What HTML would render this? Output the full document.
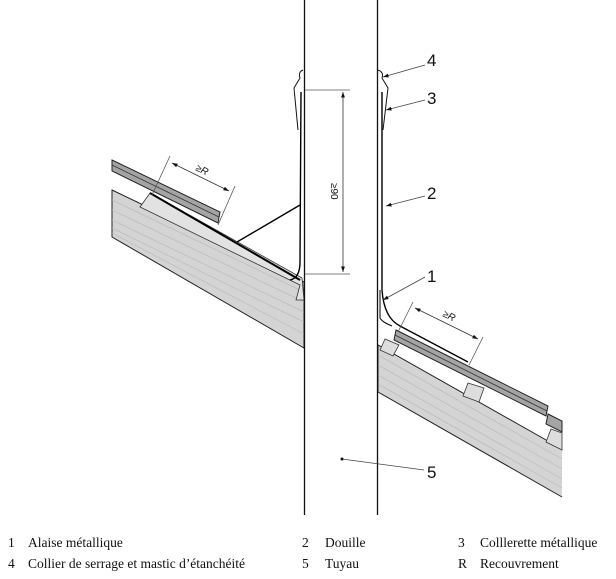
<!DOCTYPE html>
<html><head><meta charset="utf-8"><style>
html,body{margin:0;padding:0;background:#fff;width:616px;height:579px;overflow:hidden}
svg{display:block}
.lg{font-family:"Liberation Serif",serif;font-size:13.5px;fill:#111}
.lb{font-family:"Liberation Sans",sans-serif;font-size:17px;fill:#111}
</style></head><body>
<svg width="616" height="579" viewBox="0 0 616 579" xmlns="http://www.w3.org/2000/svg">
<defs>
<marker id="ar" viewBox="0 0 10 10" refX="10" refY="5" markerWidth="7" markerHeight="7" orient="auto-start-reverse"><path d="M0,1.5 L10,5 L0,8.5z" fill="#111"/></marker>
</defs>
<!-- left slab -->
<polygon points="112,190 304,282 304,348 112,237" fill="#d4d4d4" stroke="#222" stroke-width="1"/>
<g stroke="#bbb" stroke-width="0.7">
<line x1="112" y1="200" x2="304" y2="292"/><line x1="112" y1="210" x2="304" y2="302"/><line x1="112" y1="220" x2="304" y2="312"/><line x1="112" y1="228" x2="304" y2="322"/><line x1="112" y1="233" x2="304" y2="334"/>
</g>
<polygon points="150,193 302,278 304,300 296,300 300,285 140,207" fill="#e2e2e2" stroke="#333" stroke-width="0.8"/>
<polygon points="112,160 220,212 218,223 112,171" fill="#a4a4a4" stroke="#222" stroke-width="1"/>
<line x1="112" y1="165" x2="219" y2="217" stroke="#333" stroke-width="0.8"/>
<polyline points="150,193 300,280" fill="none" stroke="#000" stroke-width="2"/>
<!-- right slab -->
<polygon points="378,345 562,449 562,497 378,392" fill="#d4d4d4"/>
<polyline points="562,449 378,345 378,392 562,497" fill="none" stroke="#222" stroke-width="1"/>
<g stroke="#bbb" stroke-width="0.7">
<line x1="378" y1="355" x2="562" y2="459"/><line x1="378" y1="365" x2="562" y2="469"/><line x1="378" y1="375" x2="562" y2="479"/><line x1="378" y1="384" x2="562" y2="488"/>
</g>
<polygon points="385,339 399,345 393,356 380,350" fill="#ddd" stroke="#333" stroke-width="0.8"/>
<polygon points="468,383 484,388 479,402 463,396" fill="#ddd" stroke="#333" stroke-width="0.8"/>
<polygon points="551,429 562,433 562,450 546,442" fill="#ddd" stroke="#333" stroke-width="0.8"/>
<polygon points="396,330 548,406 546,416 394,340" fill="#a4a4a4" stroke="#222" stroke-width="1"/>
<line x1="395" y1="335" x2="547" y2="411" stroke="#333" stroke-width="0.8"/>
<polygon points="548,414 562,421 562,432 546,424" fill="#a4a4a4" stroke="#222" stroke-width="1"/>
<!-- pipe -->
<line x1="304.5" y1="0" x2="304.5" y2="515" stroke="#111" stroke-width="1.3"/>
<line x1="377.5" y1="0" x2="377.5" y2="515" stroke="#111" stroke-width="1.3"/>
<path d="M301,92 L300,262 Q300,278 290,280" fill="none" stroke="#000" stroke-width="1.4"/>
<polyline points="300,205 237,242" fill="none" stroke="#000" stroke-width="1.4"/>
<path d="M303,70 Q298,72 300,78 L294,88 L298,130" fill="none" stroke="#111" stroke-width="1"/>
<path d="M382,92 L382,290 Q384,318 400,326 L468,362" fill="none" stroke="#000" stroke-width="1.4"/>
<path d="M380,290 L380,318 Q382,322 392,326" fill="none" stroke="#000" stroke-width="1"/>
<path d="M378,70 Q384,72 382,78 L388,88 L383,130" fill="none" stroke="#111" stroke-width="1"/>
<g stroke="#555" stroke-width="0.8">
<line x1="305" y1="90" x2="350" y2="90"/><line x1="305" y1="274" x2="350" y2="274"/>
</g>
<line x1="343" y1="92" x2="343" y2="272" stroke="#333" stroke-width="0.8" marker-start="url(#ar)" marker-end="url(#ar)"/>
<text transform="translate(331,183) rotate(90)" font-family="Liberation Sans,sans-serif" font-size="10" fill="#111">≥90</text>
<g stroke="#555" stroke-width="0.8">
<line x1="170" y1="156" x2="152" y2="195"/><line x1="235" y1="186" x2="218" y2="225"/>
</g>
<line x1="172" y1="163" x2="229" y2="191" stroke="#333" stroke-width="0.8" marker-start="url(#ar)" marker-end="url(#ar)"/>
<text transform="translate(195,170) rotate(26)" font-family="Liberation Sans,sans-serif" font-size="10" font-style="italic" fill="#111">≥R</text>
<g stroke="#555" stroke-width="0.8">
<line x1="413" y1="302" x2="398" y2="332"/><line x1="483" y1="337" x2="469" y2="365"/>
</g>
<line x1="415" y1="308" x2="478" y2="339" stroke="#333" stroke-width="0.8" marker-start="url(#ar)" marker-end="url(#ar)"/>
<text transform="translate(442,316) rotate(26)" font-family="Liberation Sans,sans-serif" font-size="10" font-style="italic" fill="#111">≥R</text>
<g stroke="#444" stroke-width="0.8" fill="none">
<line x1="425" y1="65" x2="383" y2="77" marker-end="url(#ar)"/>
<line x1="425" y1="100" x2="386" y2="110" marker-end="url(#ar)"/>
<line x1="425" y1="196" x2="386" y2="206" marker-end="url(#ar)"/>
<line x1="425" y1="277" x2="383" y2="300" marker-end="url(#ar)"/>
<line x1="342" y1="459" x2="424" y2="470"/>
</g>
<circle cx="342" cy="459" r="1.5" fill="#111"/>
<text class="lb" x="427" y="66">4</text>
<text class="lb" x="427" y="104">3</text>
<text class="lb" x="427" y="199">2</text>
<text class="lb" x="427" y="282">1</text>
<text class="lb" x="427" y="478">5</text>
<text class="lg" x="8" y="547">1</text><text class="lg" x="28" y="547">Alaise métallique</text>
<text class="lg" x="302" y="547">2</text><text class="lg" x="325" y="547">Douille</text>
<text class="lg" x="458" y="547">3</text><text class="lg" x="480" y="547">Colllerette métallique</text>
<text class="lg" x="8" y="568">4</text><text class="lg" x="28" y="568">Collier de serrage et mastic d’étanchéité</text>
<text class="lg" x="302" y="568">5</text><text class="lg" x="325" y="568">Tuyau</text>
<text class="lg" x="458" y="568">R</text><text class="lg" x="480" y="568">Recouvrement</text>
</svg>
</body></html>
